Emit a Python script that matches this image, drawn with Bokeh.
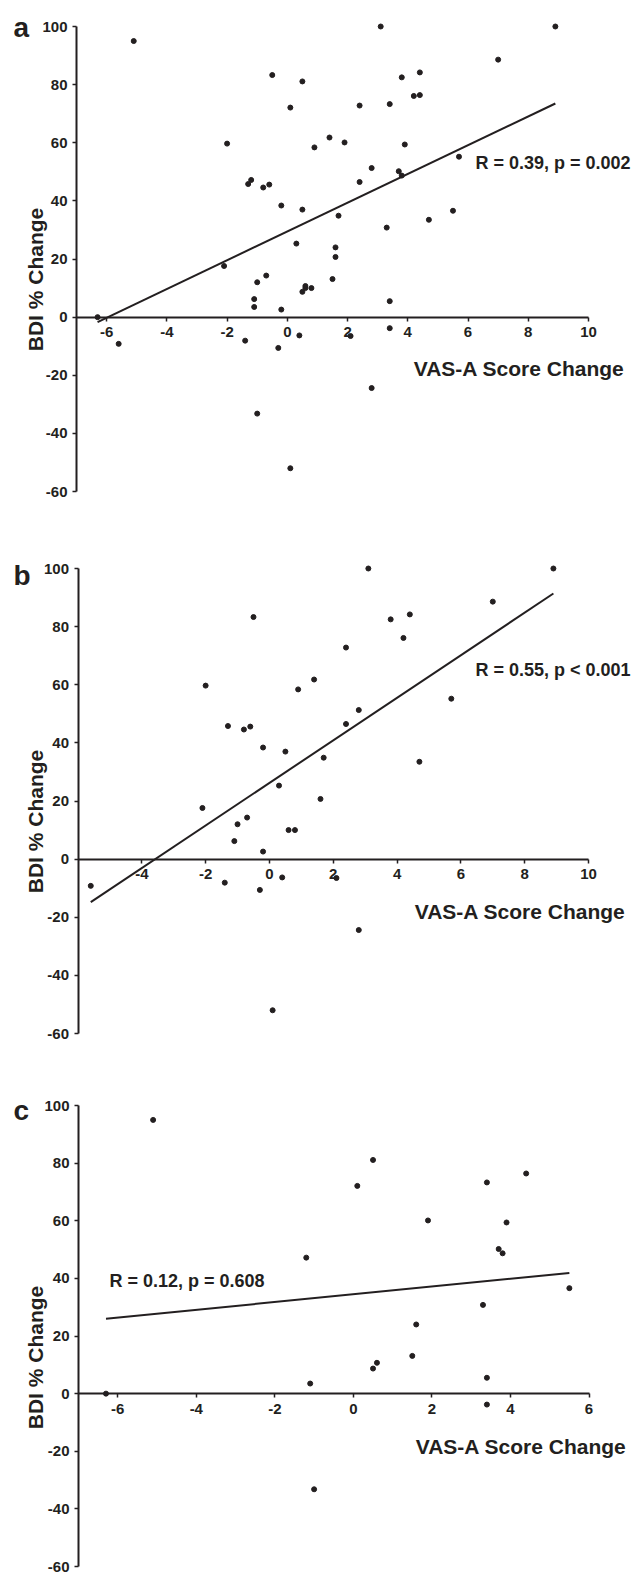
import math
from bokeh.plotting import figure
from bokeh.layouts import column
from bokeh.models import Range1d, FixedTicker, Label, PrintfTickFormatter
from bokeh.embed import file_html
from bokeh.resources import INLINE

# ---------------- data ----------------
# Panel b subgroup
b_vas = [3.1, 8.9, 7.0, -0.5, 4.4, 3.8, 4.2, 2.4, -2.0, 1.4, 0.9, 5.7, 2.8, 2.4,
         -1.3, -0.8, -0.6, -0.2, 0.5, 1.7, 4.7, 0.3, -2.1, 1.6, -1.0, -0.7, -1.1,
         -0.2, 0.6, 0.8, -5.6, -1.4, -0.3, 0.4, 2.1, 2.8, 0.1]
b_bdi = [100.0, 100.0, 88.6, 83.3, 84.2, 82.5, 76.1, 72.8, 59.7, 61.8, 58.4, 55.2,
         51.3, 46.5, 45.8, 44.6, 45.6, 38.4, 37.0, 34.9, 33.5, 25.3, 17.6, 20.7,
         12.0, 14.3, 6.2, 2.6, 10.0, 10.0, -9.2, -8.1, -10.6, -6.3, -6.5, -24.4, -52.0]
# Panel c subgroup
c_vas = [-5.1, 0.5, 0.1, 3.4, 4.4, 1.9, 3.9, 3.7, 3.8, -1.2, 5.5, 3.3, 1.6, 1.5,
         0.5, 0.6, -1.1, 3.4, -6.3, 3.4, -1.0]
c_bdi = [95.0, 81.1, 72.1, 73.3, 76.4, 60.1, 59.4, 50.2, 48.7, 47.2, 36.6, 30.8,
         24.0, 13.1, 8.7, 10.7, 3.5, 5.5, 0.0, -3.8, -33.2]
# Panel a: all subjects
a_vas = b_vas + c_vas
a_bdi = b_bdi + c_bdi

# regression lines (end points)
a_fit_vas = [-6.3, 8.9]
a_fit_bdi = [-1.7, 73.5]
b_fit_vas = [-5.6, 8.9]
b_fit_bdi = [-14.8, 91.4]
c_fit_vas = [-6.3, 5.5]
c_fit_bdi = [26.0, 41.9]

a_stat = "R = 0.39, p = 0.002"
b_stat = "R = 0.55, p < 0.001"
c_stat = "R = 0.12, p = 0.608"

x_ticks_a = [-6, -4, -2, 0, 2, 4, 6, 8, 10]
x_ticks_b = [-4, -2, 0, 2, 4, 6, 8, 10]
x_ticks_c = [-6, -4, -2, 0, 2, 4, 6]
y_ticks = [-60, -40, -20, 0, 20, 40, 60, 80, 100]
y_lim = (-60, 100)

x_title = "VAS-A Score Change"
y_title = "BDI % Change"

INK = "#231f20"
FONT = "Liberation Sans"
W = 633


def panel(letter, xs, ys, fx, fy, stat, xlim, xticks, H, px_x, px_y,
          letter_px, stat_px, xlab_px, ylab_px):
    # px_x: pixel columns of xlim ends; px_y: pixel rows (in figure) of y_lim top/bottom
    sx = (px_x[1] - px_x[0]) / (xlim[1] - xlim[0])
    sy = (px_y[1] - px_y[0]) / (y_lim[1] - y_lim[0])
    x0 = xlim[0] - px_x[0] / sx
    x1 = xlim[1] + (W - px_x[1]) / sx
    y1 = y_lim[1] + px_y[0] / sy
    y0 = y_lim[0] - (H - px_y[1]) / sy

    def to_data(px, py):
        return x0 + px / sx, y1 - py / sy

    p = figure(width=W, height=H, x_range=Range1d(x0, x1),
               y_range=Range1d(y0, y1), output_backend="svg",
               toolbar_location=None, title=None,
               min_border_left=0, min_border_right=0,
               min_border_top=0, min_border_bottom=0)
    p.grid.visible = False
    p.outline_line_color = None
    p.background_fill_color = "white"
    p.border_fill_color = "white"

    p.xaxis.fixed_location = 0
    p.xaxis.bounds = xlim
    p.yaxis.fixed_location = xlim[0]
    p.yaxis.bounds = y_lim

    for ax, ticks in ((p.xaxis, xticks), (p.yaxis, y_ticks)):
        ax.ticker = FixedTicker(ticks=ticks)
        ax.formatter = PrintfTickFormatter(format="%d")
        ax.axis_line_width = 2
        ax.axis_line_color = INK
        ax.major_tick_line_width = 1.5
        ax.major_tick_line_color = INK
        ax.major_tick_in = 0
        ax.major_tick_out = 4
        ax.minor_tick_line_color = None
        ax.major_label_text_font = FONT
        ax.major_label_text_font_style = "bold"
        ax.major_label_text_font_size = "15px"
        ax.major_label_text_color = INK
    p.xaxis.major_label_standoff = 6
    p.yaxis.major_label_standoff = 5

    p.line(fx, fy, line_width=2, line_color=INK)
    p.scatter(xs, ys, size=5, fill_color=INK, line_color=INK)

    def lab(pos, text, size, align="left", angle=0, baseline="alphabetic"):
        x, y = to_data(*pos)
        p.add_layout(Label(x=x, y=y, text=text, angle=angle,
                           text_font=FONT, text_font_style="bold",
                           text_font_size=size, text_color=INK,
                           text_align=align, text_baseline=baseline))

    lab(letter_px, letter, "28px")
    lab(stat_px, stat, "18px")
    lab(xlab_px, x_title, "21px", align="right")
    lab(ylab_px, y_title, "21px", align="center",
        angle=math.pi / 2, baseline="middle")
    return p


pa = panel("a", a_vas, a_bdi, a_fit_vas, a_fit_bdi, a_stat, (-7, 10), x_ticks_a,
           530, (76, 588), (26, 491),
           letter_px=(13, 27), stat_px=(475, 162), xlab_px=(624, 368),
           ylab_px=(35, 279))
pb = panel("b", b_vas, b_bdi, b_fit_vas, b_fit_bdi, b_stat, (-6, 10), x_ticks_b,
           540, (77.5, 588), (38, 503),
           letter_px=(13, 45), stat_px=(475, 139), xlab_px=(625, 381),
           ylab_px=(35, 291))
pc = panel("c", c_vas, c_bdi, c_fit_vas, c_fit_bdi, c_stat, (-7, 6), x_ticks_c,
           506, (78, 588.5), (35, 496),
           letter_px=(13, 40), stat_px=(109, 210), xlab_px=(626, 376),
           ylab_px=(35, 287))

layout = column(pa, pb, pc, spacing=0)
open("out.html", "w").write(file_html(layout, INLINE))
